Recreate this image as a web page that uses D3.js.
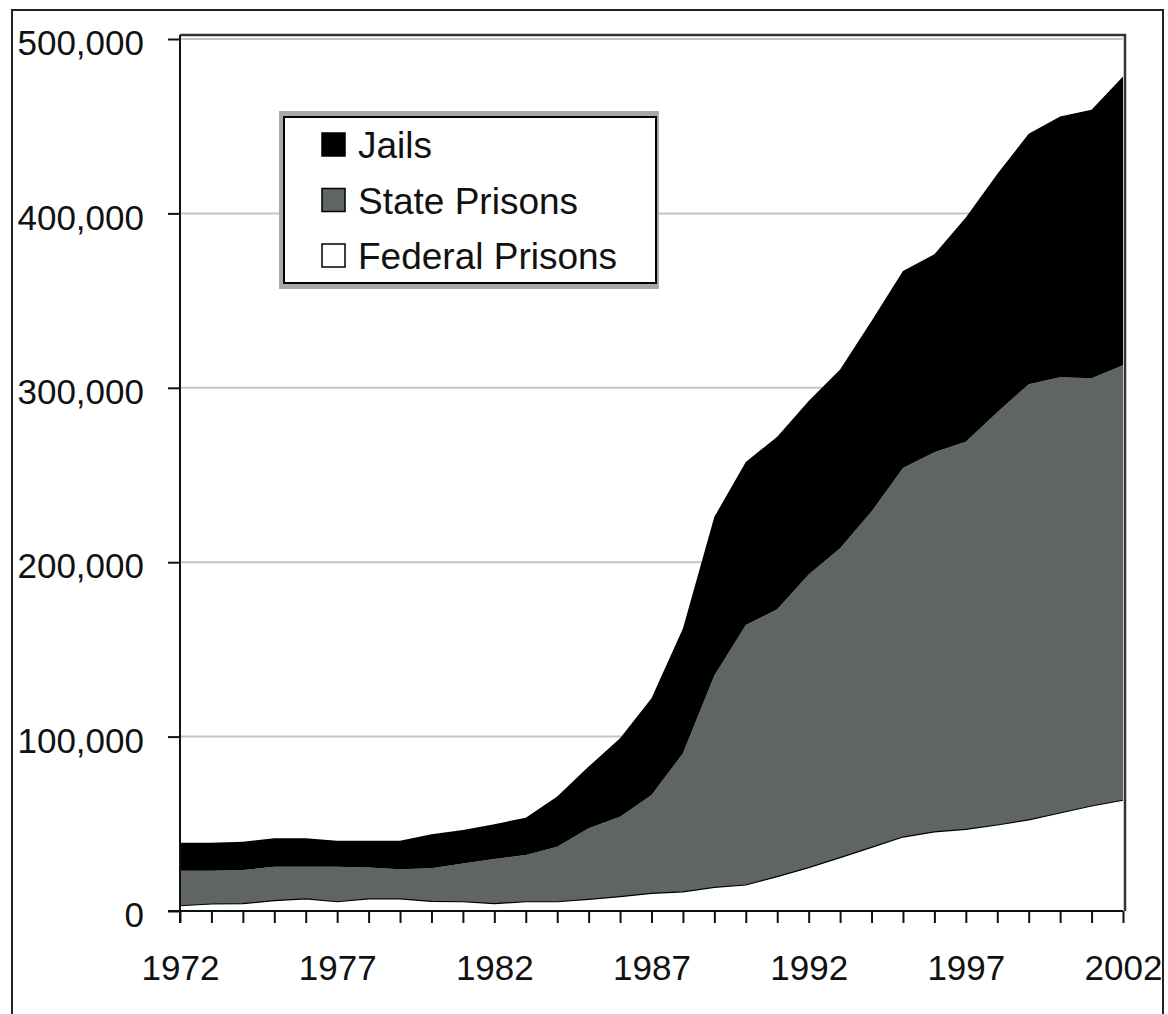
<!DOCTYPE html>
<html>
<head>
<meta charset="utf-8">
<script src="https://cdn.jsdelivr.net/npm/d3@7"></script>
<style>
  body { margin: 0; background: #fff; }
  text { font-family: "Liberation Sans", Arial, sans-serif; fill: #111; }
</style>
</head>
<body>
<script>
const width = 1168, height = 1014;

// years 1972..2002
const years = d3.range(1972, 2003);

// layer values (persons)
const federal = [3000, 4000, 4200, 5900, 7000, 5300, 7000, 7000, 5500, 5300, 4200,
  5300, 5300, 6700, 8200, 10100, 11000, 13600, 14900, 19700, 24900,
  30600, 36500, 42400, 45400, 46800, 49300, 52300, 56200, 60200, 63500];
const state = [20100, 19100, 19300, 19500, 18400, 20100, 18000, 17000, 19000, 22000, 25600,
  26800, 31600, 40700, 45800, 56400, 79400, 121400, 149100, 153300, 168100,
  177400, 192500, 211600, 217600, 222200, 236700, 249700, 249800, 245300, 249500];
const jails = [16100, 16100, 16200, 16300, 16300, 14900, 15300, 16300, 19500, 19100, 20000,
  21400, 28700, 35400, 45000, 55500, 71600, 91000, 93500, 99000, 99500,
  102500, 109300, 113000, 113600, 128700, 136600, 143600, 149600, 153900, 165500];

const yTicks = [0, 100000, 200000, 300000, 400000, 500000];
const xLabelYears = [1972, 1977, 1982, 1987, 1992, 1997, 2002];

const keys = ["federal", "state", "jails"];
const names = { jails: "Jails", state: "State Prisons", federal: "Federal Prisons" };
const fills = { jails: "#000", state: "#5e6563", federal: "#fff" };

const rows = years.map((y, i) => ({ year: y, federal: federal[i], state: state[i], jails: jails[i] }));
const series = d3.stack().keys(keys)(rows);

const svg = d3.select("body").append("svg")
    .attr("width", width)
    .attr("height", height);

// outer frame (bottom runs off the picture)
svg.append("path")
    .attr("d", "M12,1020V10H1163V1020")
    .attr("fill", "none")
    .attr("stroke", "#222")
    .attr("stroke-width", 2);

const x = d3.scaleLinear().domain([1972, 2002]).range([180, 1123]);
const y = d3.scaleLinear().domain([0, 500000]).range([911, 39]);

// grid
svg.append("g")
    .selectAll("line")
    .data(yTicks)
    .enter().append("line")
    .attr("x1", x(1972)).attr("x2", x(2002))
    .attr("y1", d => y(d)).attr("y2", d => y(d))
    .attr("stroke", "#c4c4c4")
    .attr("stroke-width", 2);

// stacked areas
const area = d3.area()
    .x(d => x(d.data.year))
    .y0(d => y(d[0]))
    .y1(d => y(d[1]));

svg.append("g")
    .selectAll("path")
    .data(series)
    .enter().append("path")
    .attr("d", area)
    .attr("fill", d => fills[d.key]);

// thin outline on the federal/state boundary
svg.append("path")
    .datum(series[0])
    .attr("d", d3.line().x(d => x(d.data.year)).y(d => y(d[1])))
    .attr("fill", "none")
    .attr("stroke", "#000")
    .attr("stroke-width", 1.2);

// plot frame top + right
svg.append("path")
    .attr("d", `M${x(1972)},35H${x(2002) + 2}V${y(0)}`)
    .attr("fill", "none")
    .attr("stroke", "#333")
    .attr("stroke-width", 2.5);

// axes
const yAxis = svg.append("g")
    .attr("transform", `translate(${x(1972)},0)`)
    .call(d3.axisLeft(y).tickValues(yTicks).tickSize(12).tickPadding(24).tickFormat(d3.format(",")));
yAxis.select(".domain").attr("d", `M0,35V${y(0) + 12}`);
yAxis.selectAll("text").attr("dy", "0.45em");

const xAxis = svg.append("g")
    .attr("transform", `translate(0,${y(0)})`)
    .call(d3.axisBottom(x).tickValues(years).tickSize(12).tickPadding(32)
        .tickFormat(d => xLabelYears.includes(d) ? String(d) : ""));
xAxis.select(".domain").attr("d", `M${x(1972) - 12},0H${x(2002)}`);

svg.selectAll(".tick line").attr("stroke", "#111").attr("stroke-width", 2);
svg.selectAll(".domain").attr("stroke", "#111").attr("stroke-width", 2);
svg.selectAll(".tick text").style("font-size", "35px").attr("font-family", null);

// legend
const legend = svg.append("g");
legend.append("rect")
    .attr("x", 279).attr("y", 111).attr("width", 380).attr("height", 178)
    .attr("fill", "#a8a8a8");
legend.append("rect")
    .attr("x", 284).attr("y", 117).attr("width", 372).attr("height", 166)
    .attr("fill", "#fff")
    .attr("stroke", "#000")
    .attr("stroke-width", 2);

const order = ["jails", "state", "federal"];
const item = legend.selectAll(".item")
    .data(order)
    .enter().append("g")
    .attr("transform", (d, i) => `translate(322,${133 + i * 55.5})`);
item.append("rect")
    .attr("width", 23).attr("height", 23)
    .attr("fill", d => fills[d])
    .attr("stroke", "#000")
    .attr("stroke-width", 1.5);
item.append("text")
    .attr("x", 36).attr("y", 25)
    .style("font-size", "37px")
    .text(d => names[d]);
</script>
</body>
</html>
